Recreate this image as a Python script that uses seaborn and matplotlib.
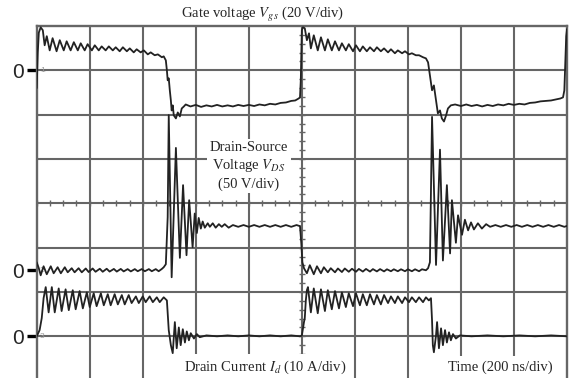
import numpy as np
import pandas as pd
import matplotlib
matplotlib.use("Agg")
import matplotlib.pyplot as plt
import seaborn as sns

# ---------------- data (time in ns, values in V or A) ----------------
gate_t = [0, 4, 8, 15, 23, 30, 38, 49, 60, 75, 87, 102, 113, 128, 140, 155, 166, 181, 192, 208,
          219, 234, 245, 260, 272, 287, 298, 313, 325, 340, 351, 366, 377, 392, 404, 419, 430, 445,
          457, 472, 479, 487, 491, 494, 498, 502, 506, 509, 513, 517, 525, 532, 540, 547, 555, 562,
          580, 600, 620, 640, 660, 680, 700, 720, 740, 760, 780, 800, 820, 840, 860, 880, 900, 920,
          940, 960, 975, 988,
          993, 996, 1000, 1004, 1011, 1019, 1027, 1034, 1045, 1060, 1072, 1087, 1098, 1113, 1125,
          1140, 1151, 1166, 1177, 1193, 1204, 1219, 1230, 1245, 1257, 1272, 1283, 1298, 1310, 1325,
          1336, 1351, 1362, 1378, 1389, 1404, 1415, 1430, 1442, 1457, 1468, 1476, 1483, 1491, 1498,
          1506, 1513, 1521, 1528, 1536, 1544, 1551, 1562, 1578, 1600, 1620, 1640, 1660, 1680, 1700,
          1720, 1740, 1760, 1780, 1800, 1820, 1840, 1860, 1880, 1900, 1920, 1940, 1960, 1975, 1985,
          1990, 1994, 1997, 2000]
gate_v = [-8, 8, 17, 19.4, 18.1, 11.3, 15.4, 9.0, 14.5, 8.6, 13.6, 9.0, 13.1, 9.0, 12.7, 9.0, 12.2,
          9.0, 11.8, 9.0, 11.3, 9.0, 10.8, 9.0, 10.8, 9.0, 10.4, 8.6, 10.4, 8.6, 9.9, 8.1, 9.5, 8.1,
          9.0, 7.2, 8.1, 6.8, 7.2, 5.9, 6.3, 4.5, 0, -4.5, -3.6, -9.0, -13.6, -18.1, -15.8, -20.3,
          -21.7, -19.0, -20.8, -17.2, -16.3, -15.4,
          -16.3, -15.6, -16.5, -15.8, -16.3, -15.6, -16.3, -15.8, -16.3, -15.6, -16.1, -15.6, -16.1,
          -15.4, -15.8, -15.1, -15.4, -14.7, -14.5, -13.8, -13.6, -12.7,
          -12.2, -4.5, 18.1, 19.4, 19.0, 13.6, 16.7, 9.9, 15.8, 9.0, 14.9, 9.0, 14.0, 9.0, 13.1,
          9.0, 12.2, 9.0, 11.8, 8.6, 11.3, 8.6, 10.8, 8.6, 10.4, 8.6, 10.4, 8.6, 9.9, 8.1,
          9.5, 7.7, 9.0, 7.7, 8.6, 7.2, 7.7, 6.8, 6.8, 5.9, 5.4, 3.6, -2.3, -9.0, -6.8,
          -13.6, -19.4, -18.1, -21.7, -23.1, -20.3, -17.2, -15.8, -15.4, -16.1, -15.4, -16.1, -15.6,
          -16.3, -15.6, -16.1, -15.4, -15.8, -15.1, -15.6, -15.1, -15.4, -14.7, -14.5, -14.0, -13.8,
          -13.6, -13.1, -12.7, -12.2, -9.0, 5.0, 15.4, 18.6]

vds_t = [0, 8, 15, 26, 38, 53, 64, 79, 91, 106, 117, 132, 143, 158, 170, 185, 196, 211, 222, 238,
         249, 264, 275, 291, 302, 317, 328, 343, 355, 370, 381, 396, 408, 423, 434, 449, 460, 472,
         479, 487, 494, 498, 509, 525, 540, 552, 565, 575, 588, 596, 604, 611, 619, 626, 634, 645,
         653, 664, 675, 687, 698, 709, 724, 740, 760, 780, 800, 820, 840, 860, 880, 900, 920, 940,
         960, 980, 990,
         993, 998, 1002, 1008, 1019, 1030, 1045, 1057, 1072, 1083, 1098, 1109, 1125, 1136, 1151,
         1162, 1177, 1189, 1204, 1215, 1230, 1242, 1257, 1268, 1283, 1295, 1310, 1321, 1336, 1347,
         1362, 1374, 1389, 1400, 1415, 1427, 1442, 1453, 1468, 1476, 1483, 1491, 1506, 1521, 1532,
         1547, 1559, 1566, 1581, 1589, 1604, 1615, 1627, 1638, 1649, 1664, 1679, 1695, 1710, 1730,
         1750, 1770, 1790, 1810, 1830, 1850, 1870, 1890, 1910, 1930, 1950, 1970, 1990, 2000]
vds_v = [9, 2.3, -5.7, 4.5, -4.5, 4.5, -3.4, 3.4, -3.4, 3.4, -2.3, 2.3, -2.3, 2.3, -2.3, 2.0, -2.0,
         2.0, -1.7, 1.7, -1.7, 1.7, -1.5, 1.5, -1.5, 1.5, -1.3, 1.3, -1.3, 1.3, -1.1, 1.3, -1.1,
         1.3, -1.1, 1.3, -1.1, 1.5, 3.4, 6.8, 60, 175, -7.9, 138, 14, 96, 17, 79, 26, 64, 42, 59,
         47, 55, 48, 53, 49, 53, 48, 52, 49, 52, 48, 51, 49, 51, 49, 51, 49, 51, 49, 51, 49, 51,
         49, 51, 50,
         50, 30, 9, 2.3, -3.4, 5.7, -4.5, 4.5, -3.4, 3.4, -2.3, 2.3, -2.3, 2.0, -2.0, 2.0, -1.7,
         1.7, -1.7, 1.5, -1.5, 1.5, -1.5, 1.3, -1.3, 1.3, -1.3, 1.1, -1.1, 1.1, -1.1, 1.1, -1.1,
         1.1, -1.1, 1.1, -1.1, 1.1, 0, 2.3, 9, 173, 6, 136, 11, 96, 19, 79, 31, 62, 40, 57, 45,
         54, 46, 53, 47, 52, 49, 51, 49, 51, 49, 51, 49, 51, 49, 51, 49, 51, 49, 51, 49, 50]

id_t = [0, 11, 19, 26, 34, 45, 57, 68, 83, 94, 109, 121, 136, 147, 162, 174, 189, 200, 215, 226,
        242, 253, 268, 279, 294, 306, 321, 332, 347, 358, 374, 385, 400, 411, 426, 438, 453, 464,
        479, 491, 498, 506, 513, 521, 528, 536, 543, 551, 559, 566, 574, 581, 593, 604, 615, 640,
        680, 720, 760, 800, 840, 880, 920, 960, 993,
        1000, 1008, 1011, 1015, 1019, 1023, 1034, 1045, 1060, 1072, 1087, 1098, 1113, 1125, 1140,
        1151, 1166, 1177, 1193, 1204, 1219, 1230, 1245, 1257, 1272, 1283, 1298, 1310, 1325, 1336,
        1351, 1362, 1378, 1389, 1404, 1415, 1430, 1442, 1457, 1468, 1479, 1487, 1491, 1494, 1498,
        1506, 1510, 1517, 1525, 1532, 1540, 1547, 1555, 1562, 1570, 1581, 1596, 1640, 1700, 1760,
        1820, 1880, 1940, 2000]
id_a = [0, 1.4, 4.1, 8.6, 11.1, 5.4, 11.1, 5.4, 10.8, 5.7, 10.6, 5.9, 10.4, 6.1, 10.2, 6.3, 9.9,
        6.6, 9.7, 6.8, 9.7, 7.0, 9.5, 7.0, 9.5, 7.2, 9.3, 7.2, 9.3, 7.5, 9.0, 7.5, 9.0, 7.7, 9.0,
        7.7, 8.8, 7.7, 8.8, 8.1, 1.4, -2.0, -3.8, 3.2, -2.7, 2.0, -2.0, 1.6, -1.4, 1.1, -0.9, 0.7,
        -0.5, 0.5, -0.2, 0.2, 0, 0.2, 0, 0.2, 0, 0.2, 0, 0.2, 0,
        0.2, 3.2, 4.1, 8.1, 10.4, 11.1, 5.4, 10.8, 5.2, 10.6, 5.7, 10.4, 6.1, 10.2, 6.3,
        9.9, 6.6, 9.7, 6.8, 9.7, 7.0, 9.5, 7.0, 9.5, 7.2, 9.3, 7.2, 9.3, 7.5, 9.0,
        7.5, 9.0, 7.5, 8.8, 7.7, 8.8, 7.7, 8.8, 7.7, 8.8, 8.1, 8.6, 3.6, -2.0, -3.6,
        0.2, 3.2, -2.7, 1.8, -2.0, 1.4, -1.4, 0.9, -0.9, 0.5, -0.5, 0.2, 0, 0.2, 0,
        0.2, 0, 0.2, 0]

# channel settings: units per division and zero level (divisions from bottom)
gate_scale, vds_scale, id_scale = 20, 50, 10
gate_zero, vds_zero, id_zero = 7.0, 2.49, 1.0

# ---------------- figure ----------------
sns.set_theme(style="white")
plt.rcParams["font.family"] = ["Liberation Serif", "DejaVu Serif"]
plt.rcParams["mathtext.fontset"] = "stix"

W, H = 569, 378
fig = plt.figure(figsize=(W / 100, H / 100), dpi=100)
fig.patch.set_facecolor("white")
left_px, right_px, top_px = 36.7, 567.0, 26.0
ax = fig.add_axes([left_px / W, 0, (right_px - left_px) / W, (H - top_px) / H])
div_px = 44.33
ax.set_xlim(0, 2000)
ax.set_ylim(8 - (H - top_px) / div_px, 8)
ax.set_facecolor("white")

GRID = "#666666"
for i in range(1, 10):
    ax.axvline(i * 200, color=GRID, lw=1.5, zorder=1)
for j in range(1, 8):
    ax.axhline(j, color=GRID, lw=1.5, zorder=1)
for s in ["top", "left", "right"]:
    ax.spines[s].set_color(GRID)
    ax.spines[s].set_linewidth(1.7)
ax.spines["bottom"].set_visible(False)

# minor graticule marks on the center lines
mx = np.arange(0, 2000.1, 50)
ax.plot(mx, np.full(mx.shape, 4.0), ls="none", marker="|", ms=4, mew=1.0, color=GRID, zorder=1)
my = np.arange(0.2, 8.0, 0.2)
ax.plot(np.full(my.shape, 1000.0), my, ls="none", marker="_", ms=4, mew=1.0, color=GRID, zorder=1)

trace_kw = dict(color="#222222", lw=1.3, sort=False, estimator=None, zorder=3)
sns.lineplot(x=gate_t, y=[gate_zero + v / gate_scale for v in gate_v], ax=ax, **trace_kw)
sns.lineplot(x=vds_t, y=[vds_zero + v / vds_scale for v in vds_v], ax=ax, **trace_kw)
sns.lineplot(x=id_t, y=[id_zero + a / id_scale for a in id_a], ax=ax, **trace_kw)

# channel zero markers
ax.set_xticks([])
ax.set_yticks([gate_zero, vds_zero, id_zero])
ax.set_yticklabels(["0", "0", "0"], fontfamily="Liberation Sans", fontsize=15)
ax.tick_params(axis="y", left=True, length=7.2, width=2.4, color="black", pad=2.2, direction="out")
for lab, z in zip(["1", "2", "3"], [gate_zero, vds_zero, id_zero]):
    ax.text(12, z, lab, fontsize=6, color="#9a9a9a", va="center", ha="left",
            fontfamily="Liberation Sans", zorder=2)

def fx(px):
    return px / W

def fy(py):
    return 1 - py / H

fig.text(fx(263), fy(15), "Gate voltage $V_{gs}$ (20 V/div)", fontsize=10.5,
         ha="center", va="center")
fig.text(fx(249), fy(166), "Drain-Source\nVoltage $V_{DS}$\n(50 V/div)", fontsize=10.5,
         ha="center", va="center", multialignment="center", linespacing=1.25,
         bbox=dict(facecolor="white", edgecolor="none", pad=2), zorder=5)
fig.text(fx(265), fy(367), "Drain Current $I_d$ (10 A/div)", fontsize=10.5,
         ha="center", va="center",
         bbox=dict(facecolor="white", edgecolor="none", pad=3), zorder=5)
fig.text(fx(500), fy(367), "Time (200 ns/div)", fontsize=10.5,
         ha="center", va="center",
         bbox=dict(facecolor="white", edgecolor="none", pad=3), zorder=5)

fig.savefig("out.png", dpi=100, facecolor="white")
